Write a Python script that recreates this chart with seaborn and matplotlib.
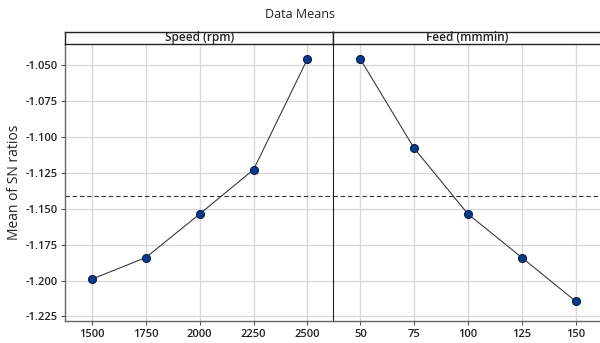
import matplotlib
matplotlib.use("Agg")
import matplotlib.pyplot as plt
import seaborn as sns
import pandas as pd

# Main-effects data: mean of S/N ratios per factor level
speed_levels = [1500, 1750, 2000, 2250, 2500]
speed_means = [-1.199, -1.184, -1.1537, -1.1228, -1.0458]
feed_levels = [50, 75, 100, 125, 150]
feed_means = [-1.0458, -1.1079, -1.1537, -1.184, -1.2144]
panel_titles = ["Speed (rpm)", "Feed (mmmin)"]
y_ticks = [-1.050, -1.075, -1.100, -1.125, -1.150, -1.175, -1.200, -1.225]

grand_mean = sum(speed_means) / len(speed_means)

sns.set_theme(style="white")
plt.rcParams["font.family"] = ["Open Sans", "DejaVu Sans"]

fig = plt.figure(figsize=(6.0, 3.43), dpi=100)
W, H = 600, 343

def fx(px):
    return px / W

def fy(py):
    return 1 - py / H

ax_top, ax_bot = 44, 320.5
strip_top = 31.5
panels = [(65, 333.3), (333.3, 601.5)]
xlims = [(1375, 2620), (37.5, 162)]
levels = [speed_levels, feed_levels]
means = [speed_means, feed_means]

axes = []
for i, (x0, x1) in enumerate(panels):
    ax = fig.add_axes([fx(x0), fy(ax_bot), fx(x1 - x0), fy(ax_top) - fy(ax_bot)])
    df = pd.DataFrame({"level": levels[i], "mean": means[i]})
    sns.lineplot(data=df, x="level", y="mean", ax=ax, color="#3a3a3a",
                 linewidth=0.8, zorder=3)
    sns.scatterplot(data=df, x="level", y="mean", ax=ax, color="#0b3a8c",
                    edgecolor="#06204f", linewidth=0.9, s=32, zorder=4)
    ax.axhline(grand_mean, color="#333333", linestyle=(0, (4, 2.5)),
               linewidth=0.8, zorder=2)
    ax.set_xlim(*xlims[i])
    ax.set_ylim(-1.2278, -1.0354)
    ax.set_xticks(levels[i])
    ax.set_xticklabels([str(v) for v in levels[i]], fontsize=8,
                       fontweight="semibold", color="#222222")
    ax.set_yticks(y_ticks)
    ax.grid(True, color="#d9d9d9", linewidth=1.0, zorder=0)
    ax.set_axisbelow(True)
    ax.set_xlabel("")
    ax.set_ylabel("")
    ax.tick_params(axis="x", length=3, width=0.8, color="#555555", pad=3,
                   bottom=True)
    for side in ["top", "right"]:
        ax.spines[side].set_visible(False)
    ax.spines["bottom"].set_color("#666666")
    ax.spines["bottom"].set_linewidth(1.0)
    if i == 0:
        ax.set_yticklabels([f"{v:.3f}" for v in y_ticks], fontsize=8,
                           fontweight="semibold", color="#222222")
        ax.tick_params(axis="y", length=3, width=0.8, color="#555555", pad=2,
                       left=True)
        ax.spines["left"].set_color("#666666")
        ax.spines["left"].set_linewidth(1.0)
        ax.set_ylabel("Mean of SN ratios", fontsize=10, color="#222222",
                      labelpad=3)
    else:
        ax.tick_params(axis="y", left=False, labelleft=False)
        ax.spines["left"].set_color("#222222")
        ax.spines["left"].set_linewidth(0.8)

    # strip header above each panel
    sax = fig.add_axes([fx(x0), fy(ax_top), fx(x1 - x0),
                        fy(strip_top) - fy(ax_top)])
    sax.set_xticks([])
    sax.set_yticks([])
    sax.set_facecolor("white")
    for side in sax.spines.values():
        side.set_color("#222222")
        side.set_linewidth(1.0)
    sax.text(0.5, 0.5, panel_titles[i], ha="center", va="center",
             fontsize=8.5, fontweight="semibold", color="#222222",
             transform=sax.transAxes)
    axes.append(ax)

fig.text(0.5, fy(14), "Data Means", ha="center", va="center", fontsize=9,
         color="#222222")

fig.savefig("out.png", dpi=100)
